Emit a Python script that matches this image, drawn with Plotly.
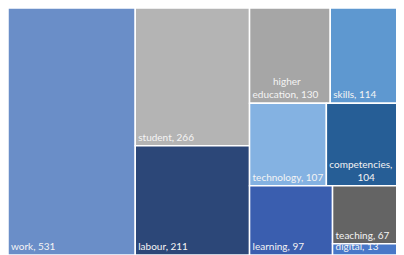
import plotly.graph_objects as go

labels = ["work", "student", "labour", "higher education", "skills",
          "technology", "competencies", "learning", "teaching", "digital"]
values = [531, 266, 211, 130, 114, 107, 104, 97, 67, 13]
display = ["work, 531", "student, 266", "labour, 211",
           "\u00a0\u00a0\u00a0\u00a0\u00a0\u00a0\u00a0\u00a0higher<br>education, 130",
           "skills, 114", "technology, 107",
           "competencies,<br>\u00a0\u00a0\u00a0\u00a0\u00a0\u00a0\u00a0\u00a0\u00a0\u00a0\u00a0104",
           "learning, 97", "teaching, 67", "digital, 13"]
colors = ["#6A8EC8", "#B4B4B4", "#2C4778", "#A6A6A6", "#5E98D0",
          "#84B2E2", "#265E96", "#3A5EAF", "#646464", "#4878C8"]

FS = 10
root = "all"

fig = go.Figure(go.Treemap(
    ids=[root] + labels,
    labels=[""] + labels,
    parents=[""] + [root] * len(labels),
    values=[sum(values)] + values,
    branchvalues="total",
    text=[""] + display,
    texttemplate="%{text}",
    textposition="bottom left",
    textfont=dict(family="Lato", size=FS, color="#F4F4F4"),
    marker=dict(colors=["white"] + colors, line=dict(width=1.5, color="white"),
                pad=dict(t=0, l=0, r=0, b=0)),
    tiling=dict(packing="squarify", pad=0),
    pathbar=dict(visible=False),
    sort=True,
    hoverinfo="skip",
))

# the page body adds an 8px offset, so the figure is sized to end at the window edge
fig.update_layout(
    width=396, height=247,
    margin=dict(l=0, r=3, t=0, b=0),
    paper_bgcolor="white",
    uniformtext=dict(minsize=FS, mode="show"),
)

fig.write_html("out.html")
